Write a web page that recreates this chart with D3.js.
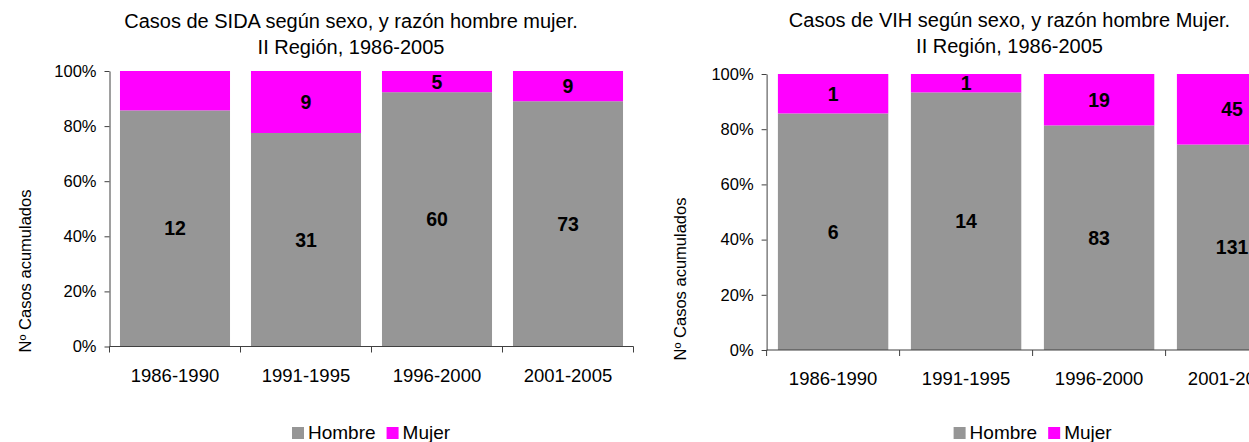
<!DOCTYPE html>
<html lang="es">
<head>
    <meta charset="UTF-8">
    <title>Casos de SIDA y VIH según sexo</title>
    <script src="https://d3js.org/d3.v7.min.js"></script>
    <style>
        body { margin: 0; background: #fff; }
        svg text { font-family: "Liberation Sans", Arial, sans-serif; fill: #000; }
    </style>
</head>
<body>
<div style="width: 1249px;height: 442px" id="figure"></div>
<script>

    // datos
    let periodos = ["1986-1990", "1991-1995", "1996-2000", "2001-2005"];
    let sidaHombre = [12, 31, 60, 73];
    let sidaMujer = [2, 9, 5, 9];
    let sidaMujerEtiqueta = ["", "9", "5", "9"];
    let vihHombre = [6, 14, 83, 131];
    let vihMujer = [1, 1, 19, 45];
    let vihMujerEtiqueta = ["1", "1", "19", "45"];
    let yTicks = [0, 0.2, 0.4, 0.6, 0.8, 1];
    let series = ["Hombre", "Mujer"];

    let hombre_color = "#969696";
    let mujer_color = "#FF00FF";
    let axis_color = "#404040";

    let figure = document.getElementById("figure");
    let svg = d3.select(figure).append("svg")
        .attr("width", 1249)
        .attr("height", 442);

    function draw(p) {
        let g = svg.append("g");

        let xScale = d3.scaleBand()
            .domain(periodos)
            .range([p.left, p.right])
            .paddingInner(p.pad)
            .paddingOuter(p.pad / 2);
        let yScale = d3.scaleLinear()
            .domain([0, 1])
            .range([p.bottom, p.top]);

        let rows = periodos.map((c, i) => {
            let tot = p.hombre[i] + p.mujer[i];
            return {cat: c, h: p.hombre[i], m: p.mujer[i], fh: p.hombre[i] / tot, lm: p.mujerLabel[i]};
        });

        // barras
        g.selectAll("rect.h").data(rows).enter().append("rect")
            .attr("x", d => xScale(d.cat))
            .attr("width", xScale.bandwidth())
            .attr("y", d => yScale(d.fh))
            .attr("height", d => yScale(0) - yScale(d.fh))
            .style("fill", hombre_color);
        g.selectAll("rect.m").data(rows).enter().append("rect")
            .attr("x", d => xScale(d.cat))
            .attr("width", xScale.bandwidth())
            .attr("y", yScale(1))
            .attr("height", d => yScale(d.fh) - yScale(1))
            .style("fill", mujer_color);

        // etiquetas
        g.selectAll("text.h").data(rows).enter().append("text")
            .attr("x", d => xScale(d.cat) + xScale.bandwidth() / 2)
            .attr("y", d => (yScale(0) + yScale(d.fh)) / 2)
            .attr("text-anchor", "middle")
            .attr("dominant-baseline", "central")
            .style("font-size", "19.5px")
            .style("font-weight", "bold")
            .text(d => d.h);
        g.selectAll("text.m").data(rows).enter().append("text")
            .attr("x", d => xScale(d.cat) + xScale.bandwidth() / 2)
            .attr("y", d => (yScale(1) + yScale(d.fh)) / 2)
            .attr("text-anchor", "middle")
            .attr("dominant-baseline", "central")
            .style("font-size", "19.5px")
            .style("font-weight", "bold")
            .text(d => d.lm);

        // eje y
        let yAxis = g.append("g")
            .attr("transform", "translate(" + p.left + ",0)")
            .call(d3.axisLeft(yScale).tickValues(yTicks).tickFormat(d3.format(".0%"))
                .tickSizeInner(5).tickSizeOuter(0).tickPadding(8));
        yAxis.select(".domain").attr("stroke", axis_color);
        yAxis.selectAll(".tick line").attr("stroke", axis_color);
        yAxis.selectAll("text")
            .style("font-size", "16.5px")
            .attr("fill", "#000");

        // eje x (marcas entre categorias)
        let xAxis = g.append("g")
            .attr("transform", "translate(0," + p.bottom + ")");
        xAxis.append("line")
            .attr("x1", p.left).attr("x2", p.right)
            .attr("stroke", axis_color);
        let bounds = periodos.map(c => xScale(c) - xScale.step() * xScale.paddingInner() / 2);
        bounds.push(p.right);
        xAxis.selectAll("line.t").data(bounds).enter().append("line")
            .attr("x1", d => d).attr("x2", d => d)
            .attr("y1", 0).attr("y2", 6)
            .attr("stroke", axis_color);
        xAxis.selectAll("text").data(periodos).enter().append("text")
            .attr("x", d => xScale(d) + xScale.bandwidth() / 2)
            .attr("y", 35)
            .attr("text-anchor", "middle")
            .style("font-size", "18.5px")
            .text(d => d);

        // titulo
        let title = g.append("text")
            .attr("text-anchor", "middle")
            .style("font-size", "20px");
        title.append("tspan").attr("x", p.titleX).attr("y", p.titleY).text(p.title1);
        title.append("tspan").attr("x", p.titleX).attr("y", p.titleY + 26).text(p.title2);

        // titulo eje y
        g.append("text")
            .attr("transform", "translate(" + p.yTitleX + "," + p.yTitleY + ") rotate(-90)")
            .attr("text-anchor", "middle")
            .attr("dominant-baseline", "central")
            .style("font-size", "16.5px")
            .text("Nº Casos acumulados");

        // leyenda
        let lg = g.append("g").attr("transform", "translate(" + p.legendX + ",427)");
        let lx = 0;
        series.forEach((s, i) => {
            lg.append("rect")
                .attr("x", lx).attr("y", 0)
                .attr("width", 12).attr("height", 12)
                .style("fill", i === 0 ? hombre_color : mujer_color);
            let t = lg.append("text")
                .attr("x", lx + 16).attr("y", 12)
                .style("font-size", "19px")
                .text(s);
            lx += 16 + t.node().getComputedTextLength() + 11;
        });
    }

    draw({
        left: 109.5, right: 633.5, top: 71, bottom: 346.5, pad: 0.16,
        hombre: sidaHombre, mujer: sidaMujer, mujerLabel: sidaMujerEtiqueta,
        title1: "Casos de SIDA según sexo, y razón hombre mujer.",
        title2: "II Región, 1986-2005",
        titleX: 351, titleY: 28,
        yTitleX: 25, yTitleY: 271,
        legendX: 292
    });

    draw({
        left: 766.6, right: 1298.6, top: 74, bottom: 350, pad: 0.17,
        hombre: vihHombre, mujer: vihMujer, mujerLabel: vihMujerEtiqueta,
        title1: "Casos de VIH según sexo, y razón hombre Mujer.",
        title2: "II Región, 1986-2005",
        titleX: 1009.5, titleY: 26.7,
        yTitleX: 680, yTitleY: 279,
        legendX: 953.6
    });
</script>
</body>
</html>
